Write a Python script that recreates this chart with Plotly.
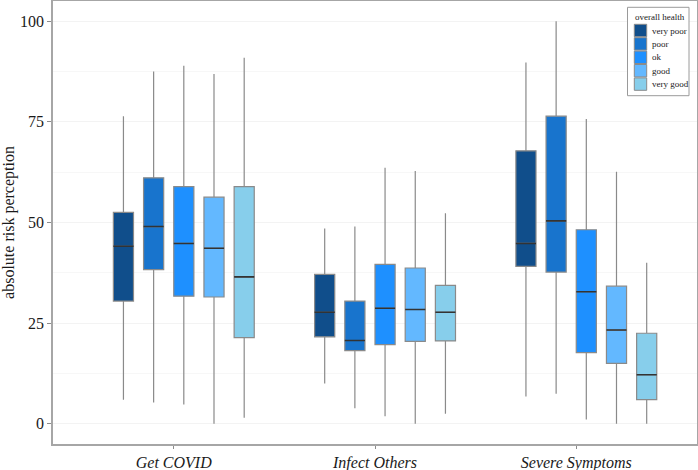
import plotly.graph_objects as go

categories = ["Get COVID", "Infect Others", "Severe Symptoms"]
health_levels = ["very poor", "poor", "ok", "good", "very good"]
colors = ["#104E8B", "#1874CD", "#1E90FF", "#63B8FF", "#87CEEB"]

# per health level: values for [Get COVID, Infect Others, Severe Symptoms]
lower_whisker = {
    "very poor": [6.0, 10.0, 6.8],
    "poor":      [5.3, 3.9, 7.5],
    "ok":        [4.8, 1.9, 1.1],
    "good":      [0.0, 0.0, 0.0],
    "very good": [1.5, 2.5, 0.0],
}
q1 = {
    "very poor": [30.5, 21.6, 39.1],
    "poor":      [38.3, 18.2, 37.7],
    "ok":        [31.7, 19.7, 17.7],
    "good":      [31.5, 20.5, 15.0],
    "very good": [21.4, 20.6, 6.0],
}
median = {
    "very poor": [44.1, 27.7, 44.8],
    "poor":      [49.0, 20.7, 50.4],
    "ok":        [44.8, 28.7, 32.8],
    "good":      [43.6, 28.4, 23.3],
    "very good": [36.5, 27.7, 12.2],
}
q3 = {
    "very poor": [52.5, 37.1, 67.8],
    "poor":      [61.1, 30.5, 76.4],
    "ok":        [58.9, 39.6, 48.2],
    "good":      [56.3, 38.7, 34.2],
    "very good": [58.9, 34.4, 22.5],
}
upper_whisker = {
    "very poor": [76.4, 48.5, 89.7],
    "poor":      [87.5, 49.0, 100.0],
    "ok":        [88.9, 63.6, 75.7],
    "good":      [86.9, 62.8, 62.6],
    "very good": [90.9, 52.3, 40.0],
}
y_ticks = [0, 25, 50, 75, 100]
legend_title = "overall health"

FONT = "Liberation Serif, Times New Roman, serif"
W, H = 698, 470
ML, MR, MT, MB = 53, 1, 1, 26
slot = 0.15
shift = 0.05
fig = go.Figure()
n = len(health_levels)
for i, (lvl, col) in enumerate(zip(health_levels, colors)):
    xs = [k + 1 + shift + (i - (n - 1) / 2) * slot for k in range(len(categories))]
    # box with whiskers
    fig.add_trace(go.Box(
        name=lvl, x=xs,
        q1=q1[lvl], median=median[lvl], q3=q3[lvl],
        lowerfence=lower_whisker[lvl], upperfence=upper_whisker[lvl],
        width=0.1, whiskerwidth=0,
        fillcolor=col,
        line=dict(color="#8a8a8a", width=1.2),
        boxpoints=False, hoverinfo="skip", showlegend=False,
    ))
    # darker median line on top
    fig.add_trace(go.Box(
        name=lvl, x=xs,
        q1=median[lvl], median=median[lvl], q3=median[lvl],
        lowerfence=median[lvl], upperfence=median[lvl],
        width=0.1, whiskerwidth=0,
        fillcolor="rgba(0,0,0,0)",
        line=dict(color="#333333", width=1.6),
        boxpoints=False, hoverinfo="skip", showlegend=False,
    ))

# manual legend (pixel layout converted to paper coords)
pw, ph = W - ML - MR, H - MT - MB
def px(xpix):
    return (xpix - ML) / pw
def py(ypix):
    return (H - MB - ypix) / ph

shapes = [dict(type="rect", xref="paper", yref="paper",
               x0=px(627.5), x1=px(689), y0=py(95.7), y1=py(7.3),
               line=dict(color="#9a9a9a", width=1), fillcolor="white", layer="above")]
annotations = [dict(text=legend_title, xref="paper", yref="paper",
                    x=px(632.5), y=py(16.5), xanchor="left", yanchor="middle",
                    showarrow=False, font=dict(size=9, family=FONT, color="#1a1a1a"))]
row_top = 24.3
row_step = 13.4
sq = 12.4
for i, (lvl, col) in enumerate(zip(health_levels, colors)):
    t = row_top + i * row_step
    shapes.append(dict(type="rect", xref="paper", yref="paper",
                       x0=px(634.3), x1=px(634.3 + sq), y0=py(t + sq), y1=py(t),
                       line=dict(color="#8a8a8a", width=1), fillcolor=col, layer="above"))
    annotations.append(dict(text=lvl, xref="paper", yref="paper",
                            x=px(649.5), y=py(t + sq / 2), xanchor="left", yanchor="middle",
                            showarrow=False, font=dict(size=9, family=FONT, color="#1a1a1a")))

fig.update_layout(
    width=W, height=H,
    margin=dict(l=ML, r=MR, t=MT, b=MB, autoexpand=False),
    paper_bgcolor="white", plot_bgcolor="white",
    font=dict(family=FONT, size=16, color="#1a1a1a"),
    showlegend=False,
    boxmode="overlay",
    shapes=shapes,
    annotations=annotations,
    xaxis=dict(
        range=[0.4, 3.6], automargin=False,
        tickmode="array", tickvals=[1, 2, 3], ticktext=categories,
        tickfont=dict(size=16, family=FONT, style="italic"),
        ticks="outside", ticklen=3, tickcolor="#8c8c8c",
        showgrid=False, zeroline=False,
        showline=True, mirror=True, linecolor="#a6a6a6", linewidth=1.5,
    ),
    yaxis=dict(
        range=[-5, 105], automargin=False,
        tickmode="array", tickvals=y_ticks,
        tickfont=dict(size=16, family=FONT),
        ticks="outside", ticklen=4, tickcolor="#8c8c8c",
        showgrid=True, gridcolor="#f3f3f3", gridwidth=1,
        minor=dict(tickvals=[12.5, 37.5, 62.5, 87.5], showgrid=True, gridcolor="#f7f7f7"),
        zeroline=False,
        showline=True, mirror=True, linecolor="#a6a6a6", linewidth=1.5,
        title=dict(text="absolute risk perception", font=dict(size=16, family=FONT), standoff=2),
    ),
)

fig.write_html("out.html", config={"displayModeBar": False},
               post_script="document.body.style.margin='0px';")
